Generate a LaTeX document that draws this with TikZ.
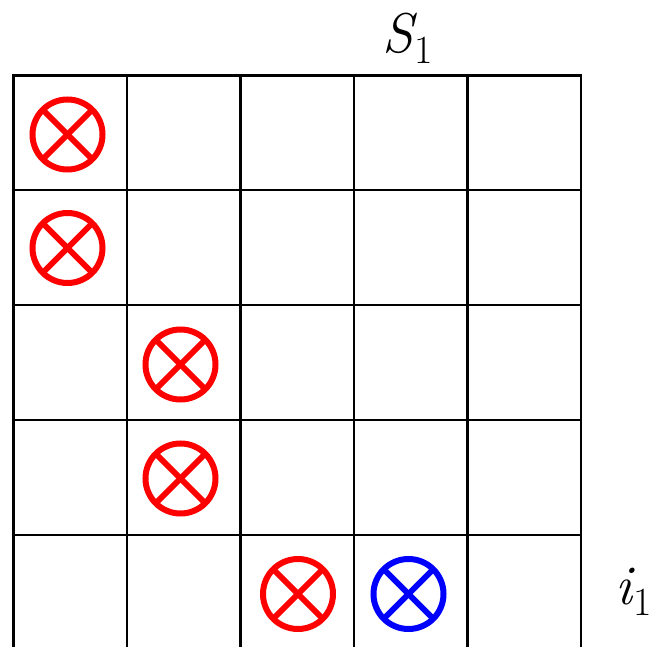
\documentclass[tikz,border=0pt]{standalone}
\usepackage{fontspec}
\usetikzlibrary{calc}
\newcommand{\sublbl}[1]{\raisebox{-11pt}{\fontsize{40}{44}\selectfont #1}}
\begin{document}
\begin{tikzpicture}[x=1pt,y=-1pt,
  gridline/.style={line width=2.2pt,black,line cap=rect},
  xcirc/.style={line width=6pt},
  lbl/.style={font=\fontsize{56}{64}\selectfont}]
\useasboundingbox (0,0) rectangle (659,647);
% grid
\foreach \i in {0,...,5} {
  \draw[gridline] ({13.5+113.5*\i},75.5) -- ({13.5+113.5*\i},652);
}
\foreach \j in {0,...,4} {
  \draw[gridline] (13.5,{75.5+114.9*\j}) -- (581,{75.5+114.9*\j});
}
% crossed circles
\foreach \px/\py/\c [count=\k] in {67.5/134.5/red,67.5/248/red,180.5/364.5/red,180.5/478.5/red,298/594/red,408.5/594/blue} {
  \coordinate (c\k) at (\px,\py);
  \draw[xcirc,draw=\c] (c\k) circle (35);
  \draw[xcirc,draw=\c] ($(c\k)+(-24.7,-24.7)$) -- ($(c\k)+(24.7,24.7)$);
  \draw[xcirc,draw=\c] ($(c\k)+(-24.7,24.7)$) -- ($(c\k)+(24.7,-24.7)$);
}
\node[lbl,inner sep=0pt] (S1) at (408,38) {\itshape S\kern1pt\upshape\sublbl{1}};
\node[lbl,inner sep=0pt] (i1) at (634,592) {\itshape i\kern1pt\upshape\sublbl{1}};
\end{tikzpicture}
\end{document}
